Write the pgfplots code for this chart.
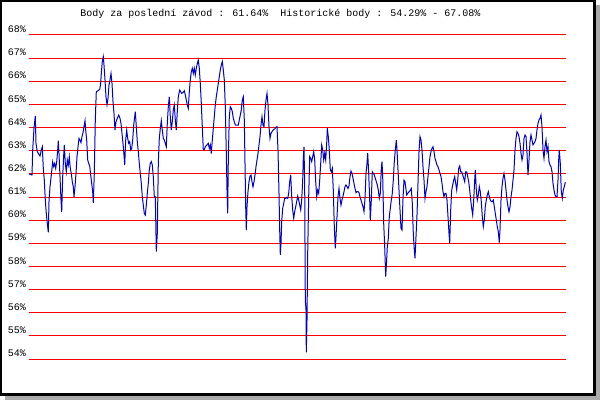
\documentclass[border=0pt]{standalone}
\usepackage{pgfplots}
\pgfplotsset{compat=1.18}
\usepackage{fontspec}
\newfontfamily\monofont{Liberation Mono}
\definecolor{lineblue}{RGB}{0,0,205}
\definecolor{shadowgrey}{RGB}{170,170,170}
\begin{document}
\begin{tikzpicture}[x=1pt,y=1pt]
\useasboundingbox (0,0) rectangle (600,400);
\fill[shadowgrey] (5,0) rectangle (600,395);
\fill[white] (0,4.3) rectangle (595.5,400);
\draw[black, line width=2.3pt] (1.15,5.45) rectangle (594.35,398.85);
\node[font=\monofont\fontsize{10}{12}\selectfont, anchor=base, inner sep=0pt] at (280.5,383) {Body za poslední závod : 61.64\%\ \ Historické body : 54.29\% - 67.08\%};
\begin{axis}[
  at={(29pt,41pt)}, anchor=south west,
  scale only axis, width=537pt, height=324pt,
  xmin=29, xmax=566, ymin=54, ymax=68,
  axis line style={draw=none}, tick style={draw=none},
  xtick=\empty,
  ytick={54,55,56,57,58,59,60,61,62,63,64,65,66,67,68},
  yticklabels={54\%,55\%,56\%,57\%,58\%,59\%,60\%,61\%,62\%,63\%,64\%,65\%,66\%,67\%,68\%},
  yticklabel style={font=\monofont\fontsize{10}{12}\selectfont, anchor=base east, inner sep=0pt, xshift=-3pt, yshift=2.3pt},
  ymajorgrids, grid style={red, line width=1pt},
]
\addplot[lineblue, line width=1pt, mark=none] coordinates {
(29.3,61.99)(32,61.95)(32.7,63.03)(34,63.97)(35.3,64.50)(36,63.32)(37.3,62.96)(38.7,62.86)(40,62.77)(41.3,63.03)(42.3,63.17)(43.3,62.24)(44.3,61.73)(45.3,60.87)(46.3,60.29)(47.3,59.86)(48.3,59.47)(49,60.80)(50,61.44)(51.3,61.95)(52.7,62.52)(53.7,62.31)(54.7,62.45)(55.7,62.24)(56.7,62.52)(57.7,63.03)(58.3,63.43)(59,62.88)(60,61.88)(61,60.87)(61.7,60.36)(62.7,61.88)(63.7,62.81)(64.3,63.25)(65.3,62.45)(66.3,62.09)(67.3,62.60)(68.3,62.38)(69.3,62.74)(70.3,62.24)(71.3,62.02)(72.3,61.66)(73.3,61.44)(74,61.01)(75,61.44)(76,62.02)(77,62.74)(78,63.17)(79,63.53)(80,63.46)(81,63.35)(82,63.61)(83,63.78)(84,64.04)(85,64.30)(85.7,63.89)(86.7,63.46)(87.7,62.60)(88.7,62.45)(89.7,62.34)(90.7,61.95)(91.7,61.59)(92.7,61.23)(93.3,60.75)(94.3,62.02)(95.3,64.33)(96.3,65.55)(98,65.59)(99.7,65.65)(100.7,65.91)(101.3,66.34)(102.3,66.85)(103.3,67.06)(104,66.70)(105,66.06)(106,65.33)(107,64.98)(108,65.26)(109,65.84)(110,66.06)(111,66.34)(112,65.91)(113,65.12)(114,64.61)(115,63.89)(116,64.25)(117.3,64.40)(118.7,64.54)(120,64.40)(121,64.18)(122,63.75)(123,63.32)(124,62.81)(124.7,62.38)(125.7,63.46)(126.7,63.89)(127.7,63.53)(128.7,63.32)(129.7,63.39)(130.7,63.03)(131.7,63.10)(132.7,63.46)(133.7,64.11)(134.7,64.47)(135.3,64.69)(136.3,64.04)(137.3,63.39)(138.3,62.96)(139.3,62.45)(140.3,62.02)(141.3,61.59)(142.3,61.01)(143.3,60.65)(144.3,60.29)(145.3,60.22)(146.3,60.65)(147.3,61.16)(148.3,61.59)(149.3,62.17)(150.3,62.45)(151.3,62.53)(152.3,62.38)(153.3,61.88)(154.3,61.01)(155.3,61.01)
(156.3,58.64)(157.3,59.43)(158.3,62.45)(159.3,63.53)(160.3,63.96)(161.3,64.30)(162.3,63.89)(163.3,63.53)(164.3,63.46)(165.3,63.32)(166.3,63.17)(167.3,64.18)(168.3,64.90)(169.3,65.33)(170.3,64.47)(171.3,63.89)(172.3,64.25)(173.3,64.76)(174.3,64.98)(175.3,64.33)(176.3,63.89)(177.3,64.69)(178.3,65.33)(179.7,65.62)(180.7,65.55)(181.7,65.48)(183,65.51)(184.3,65.59)(185.3,65.41)(186.3,65.19)(187.3,64.98)(188.3,64.83)(189.3,65.55)(190.3,66.06)(191.3,66.41)(192.3,66.56)(193.3,66.34)(194.3,66.56)(195.3,66.27)(196.3,66.56)(197.3,66.77)(198.3,66.92)(199.3,66.56)(200.3,65.91)(201.3,65.05)(202.3,64.04)(203.3,63.03)(204.3,63.06)(205.3,63.17)(206.3,63.22)(207.3,63.27)(208.3,63.32)(209.3,63.10)(210.3,63.25)(211.3,62.88)(212.3,63.46)(213.3,63.96)(214.3,64.47)(215.3,64.98)(216.3,65.33)(217.3,65.62)(218.3,65.91)(219.3,66.20)(220.3,66.49)(221.3,66.70)(222.3,66.85)(223.3,66.49)(224.3,66.06)(225.3,64.90)(226.3,62.88)(227,61.30)(227.7,60.29)(228.3,62.60)(229.3,64.47)(230.3,64.90)(231.3,64.83)(232.3,64.69)(233.3,64.40)(234.3,64.25)(235.3,64.11)(236.3,64.11)(237.3,64.11)(238.3,64.11)(239.3,64.33)(240.3,64.54)(241.3,64.76)(242.3,65.19)(243.3,65.33)(244.3,64.33)(245,62.45)(245.7,60.58)(246.3,59.57)(247,60.58)(248,61.23)(249,61.66)(250,61.90)(251,61.95)(252,61.66)(253,61.44)(254,61.66)(255,61.95)(256,62.31)(257,62.60)(258,62.88)(259,63.25)(260,63.61)(261,64.11)(262,64.47)(263,64.11)(264,64.04)(265,64.76)(266,65.19)(267,65.48)(268,64.98)(269,64.04)(270,63.53)(271,63.75)(272,63.82)(273,63.89)(274,63.92)(275,63.96)(276,64.01)(277,64.04)(278,63.03)(279,61.16)(279.7,59.57)(280.3,58.50)
(281,59.00)(281.7,59.93)(282.7,60.51)(283.7,60.72)(284.7,60.94)(285.7,60.94)(286.7,60.98)(287.7,60.94)(288.7,61.16)(289.7,61.66)(290.7,61.95)(291.7,61.04)(292.7,60.44)(293.7,60.08)(294.7,60.37)(295.7,60.58)(296.7,60.80)(297.7,61.04)(298.7,60.87)(299.7,60.65)(300.7,60.44)(301.7,60.87)(302.7,61.73)(303.3,62.67)(304,63.17)(304.7,61.45)(305.3,56.55)(306,56.12)(306.3,54.29)(307,55.68)(307.7,58.57)(308.7,61.01)(309.7,62.74)(310.7,62.67)(311.7,62.53)(312.7,62.74)(313.7,62.96)(314.7,62.60)(315.7,61.66)(316.7,61.01)(317.7,61.30)(318.7,61.16)(319.7,61.73)(320.7,62.45)(321.7,63.25)(322.7,63.03)(323.7,62.60)(324.7,62.89)(325.7,62.60)(326.7,63.32)(327.3,63.97)(328.3,63.61)(329.3,63.03)(330.3,62.17)(331.3,62.09)(332.3,62.24)(333.3,61.30)(334.3,59.72)(335.3,58.78)(336,59.28)(337,60.15)(338,61.01)(339,61.37)(340,60.94)(341,60.65)(342,60.87)(343,61.04)(344,61.23)(345,61.45)(346,61.52)(347,61.45)(348,61.37)(349,61.48)(350,61.88)(351,62.12)(352,62.02)(353,61.81)(354,61.59)(355,61.37)(356,61.19)(357,61.23)(358,61.23)(359,61.19)(360,61.01)(361,60.87)(362,60.72)(363,60.58)(364,60.37)(365,60.94)(366,62.02)(367,62.45)(367.7,62.89)(368.7,62.02)(369.7,60.87)(370.3,60.00)(371.3,60.87)(372.3,62.09)(373.3,62.02)(374.3,61.95)(375.3,61.81)(376.3,61.66)(377.3,61.52)(378.3,61.30)(379.3,60.94)(380.3,61.16)(381.3,62.24)(382,62.53)(382.7,61.88)(383.7,59.86)(384.7,58.85)(385.7,57.56)(386.3,57.99)(387.3,58.85)(388.3,59.21)(389.3,60.15)(390.3,60.51)(391.3,60.87)(392.3,61.16)(393.3,61.73)(394.3,62.53)(395.3,63.03)(396.3,63.46)(397,63.03)(398,62.17)(399,61.30)(400,60.44)(401,59.65)(402,59.57)(403,60.94)(404,61.73)
(405,61.66)(406.7,61.09)(408.3,61.19)(410,61.27)(411.3,61.37)(412.3,60.73)(413.3,59.43)(414.3,58.71)(415,58.35)(416,59.29)(417,60.22)(418,61.59)(419,62.96)(420,63.61)(421,63.46)(422,63.03)(423,62.31)(424,61.73)(425,60.94)(426,61.23)(427,61.45)(428,61.88)(429,62.31)(430,62.74)(431,62.96)(432,63.10)(433,63.17)(434,62.96)(435,62.67)(436,62.53)(437,62.38)(438,62.31)(439,62.17)(440,62.02)(441,61.88)(442,61.59)(443,61.23)(444,61.01)(445,61.16)(446,61.16)(447,60.87)(448,60.15)(449,59.43)(449.7,59.00)(450.7,60.44)(451.7,61.30)(452.7,61.52)(453.7,61.73)(454.7,61.88)(455.7,61.59)(456.7,61.30)(457.7,61.73)(458.7,62.24)(459.7,62.34)(460.7,62.09)(461.7,62.09)(462.7,61.95)(463.7,61.81)(464.7,61.66)(465.7,62.09)(466.7,62.09)(467.7,61.88)(468.7,61.66)(469.7,61.30)(470.7,60.87)(471.7,60.51)(472.7,60.22)(473.7,60.87)(474.7,61.73)(475.3,62.17)(476.3,61.30)(477.3,60.87)(478.3,61.09)(479.3,61.45)(480.3,61.23)(481.3,60.80)(482.3,60.15)(483.3,59.72)(484.3,60.01)(485.3,60.58)(486.3,60.87)(487.3,61.09)(488.3,61.23)(489.3,61.01)(490.3,60.87)(491.3,60.80)(492.3,60.80)(493.3,60.87)(494.3,60.58)(495.3,60.29)(496.3,60.01)(497.3,59.72)(498.3,59.50)(499.3,59.03)(500,59.57)(501,60.87)(502,61.45)(503,61.81)(504,62.02)(505,61.73)(506,61.30)(507,60.87)(508,60.58)(509,60.36)(510,60.58)(511,61.01)(512,61.30)(513,61.73)(514,62.17)(515,63.03)(516,63.53)(517,63.82)(518,63.75)(519,63.61)(520,63.32)(521,62.89)(522,62.60)(523,62.81)(524,63.53)(525,63.68)(526,63.61)(527,62.89)(528,61.95)(529,62.60)(530,63.39)(531,63.68)(532,63.46)(533,63.25)(534,63.32)(535,63.39)(536,63.53)(537,63.90)(538,64.18)(539,64.33)(540,64.40)(541,64.54)(542,64.04)(543,63.03)(544,62.67)(545,63.17)(546,63.46)(547,62.96)(548,63.17)(549,62.53)(550,62.38)(551,62.31)(552,62.09)(553,61.59)(554,61.30)(555,61.09)(556,61.01)(557,61.01)(558,61.73)(558.7,62.60)(559.3,63.03)(560.3,62.45)(561.3,61.23)(562.3,60.94)(563.3,61.30)(564.3,61.45)(565.3,61.64)
};
\end{axis}
\end{tikzpicture}
\end{document}
